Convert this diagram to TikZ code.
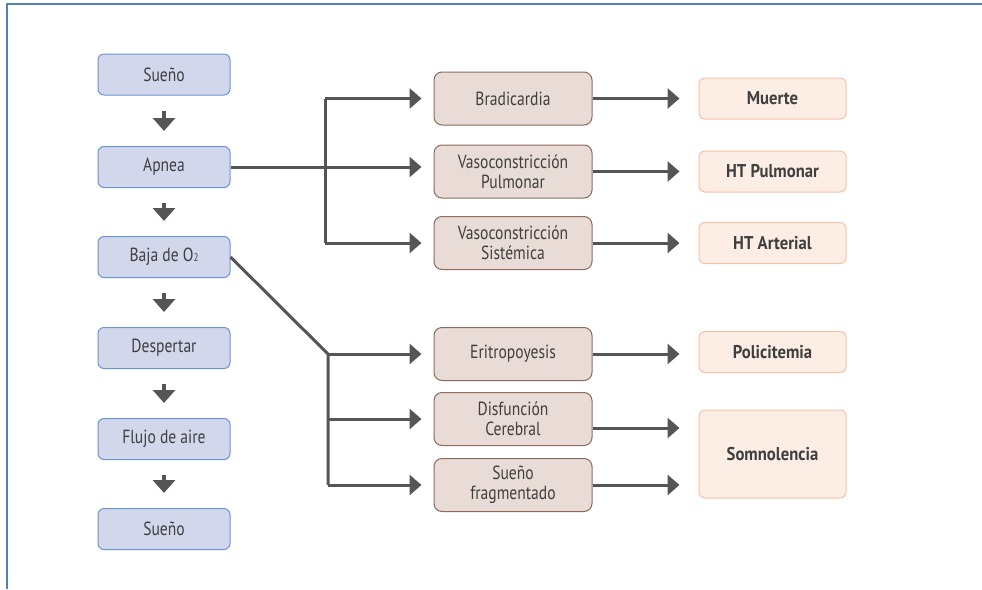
\documentclass[tikz,border=0pt]{standalone}
\usepackage{fontspec}
\setmainfont{PT Sans}[FakeStretch=0.82, BoldFeatures={FakeStretch=0.9}]
\usetikzlibrary{arrows.meta}
\definecolor{txt}{HTML}{3F3F3F}
\definecolor{lfill}{HTML}{D3D7EC}
\definecolor{ldraw}{HTML}{6A96D2}
\definecolor{mfill}{HTML}{E9DCD6}
\definecolor{mdraw}{HTML}{8C6A5E}
\definecolor{rfill}{HTML}{FCEDE5}
\definecolor{rdraw}{HTML}{F6C2A6}
\definecolor{arrc}{HTML}{555555}
\definecolor{frame}{HTML}{4F81BD}
\tikzset{
  lbox/.style={draw=ldraw, fill=lfill, line width=1pt, rounded corners=6pt,
    minimum width=132pt, minimum height=41pt, inner sep=0pt, text=txt,
    font=\fontsize{19}{20}\selectfont, align=center},
  mbox/.style={draw=mdraw, fill=mfill, line width=1pt, rounded corners=8pt,
    minimum width=158pt, minimum height=53pt, inner sep=0pt, text=txt,
    font=\fontsize{19}{20}\selectfont, align=center},
  rbox/.style={draw=rdraw, fill=rfill, line width=1pt, rounded corners=6pt,
    minimum width=147pt, minimum height=41pt, inner sep=0pt, text=txt,
    font=\bfseries\fontsize{18.5}{20}\selectfont, align=center},
  conn/.style={draw=arrc, line width=3pt},
  harr/.style={conn, -{Triangle[length=12pt,width=20pt]}},
  varr/.style={draw=arrc, line width=4pt, -{Triangle[length=13pt,width=22pt]}},
}
\begin{document}
\begin{tikzpicture}[x=1pt,y=-1pt]
\useasboundingbox (0,0) rectangle (982,589);
% frame
\draw[frame, line width=2pt] (7,589) -- (7,4) -- (982,4);

% left column
\node[lbox] (s1) at (164,74.5) {Sueño};
\node[lbox] (ap) at (164,167) {Apnea};
\node[lbox] (bo) at (164,257) {Baja de O{\fontsize{11}{11}\selectfont 2}};
\node[lbox] (de) at (164,348) {Despertar};
\node[lbox] (fl) at (164,439) {Flujo de aire};
\node[lbox] (s2) at (164,529) {Sueño};

\foreach \a/\b in {s1/ap,ap/bo,bo/de,de/fl,fl/s2}{
  \draw[varr] ([yshift=-15pt]\a.south) -- ([yshift=15pt]\b.north);
}

% middle column
\node[mbox] (br) at (513,98.5) {Bradicardia};
\node[mbox] (vp) at (513,171.5) {Vasoconstricción\\Pulmonar};
\node[mbox] (vs) at (513,243) {Vasoconstricción\\Sistémica};
\node[mbox] (er) at (513,354) {Eritropoyesis};
\node[mbox] (dc) at (513,419) {Disfunción\\Cerebral};
\node[mbox] (sf) at (513,485) {Sueño\\fragmentado};

% right column
\node[rbox] (mu) at (772.5,98.5) {Muerte};
\node[rbox] (hp) at (772.5,171.5) {HT Pulmonar};
\node[rbox] (ha) at (772.5,243) {HT Arterial};
\node[rbox] (po) at (772.5,352) {Policitemia};
\node[rbox, minimum height=88pt] (so) at (772.5,454) {Somnolencia};

% branch 1
\coordinate (k1) at (325,167);
\draw[conn] (k1 |- br.west) -- (k1 |- vs.west);
\draw[harr, shorten >=12pt] (ap.east) -- (ap.east -| vp.west);
\draw[harr, shorten >=12pt] (k1 |- br.west) -- (br.west);
\draw[harr, shorten >=12pt] (k1 |- vs.west) -- (vs.west);

% branch 2
\coordinate (k2) at (328,354);
\draw[conn, line join=round] (bo.east) -- (k2) -- (k2 |- sf.west);
\draw[harr, shorten >=12pt] (k2) -- (er.west);
\draw[harr, shorten >=12pt] (k2 |- dc.west) -- (dc.west);
\draw[harr, shorten >=12pt] (k2 |- sf.west) -- (sf.west);

% middle to right
\draw[harr, shorten >=19pt] (br.east) -- (br.east -| mu.west);
\draw[harr, shorten >=19pt] (vp.east) -- (vp.east -| hp.west);
\draw[harr, shorten >=19pt] (vs.east) -- (vs.east -| ha.west);
\draw[harr, shorten >=19pt] (er.east) -- (er.east -| po.west);
\draw[harr, shorten >=19pt] ([yshift=-9pt]dc.east) -- ([yshift=-9pt]dc.east -| so.west);
\draw[harr, shorten >=19pt] (sf.east) -- (sf.east -| so.west);
\end{tikzpicture}
\end{document}
